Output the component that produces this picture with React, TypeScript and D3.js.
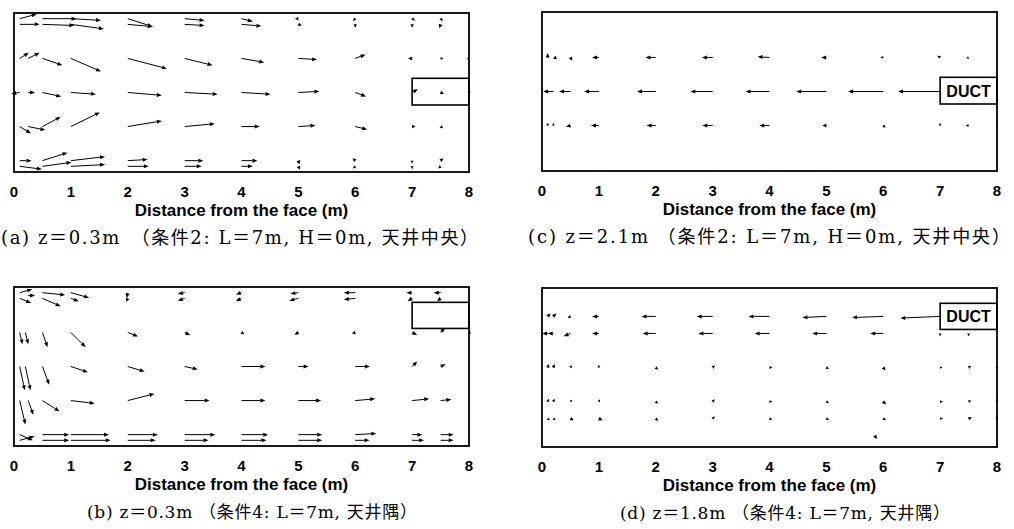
import React from "react";
import * as d3 from "d3";

// arrows: [x (m from face), y (m across), u (m/s), v (m/s)]
const arrowsA: number[][] = [
  [0.1, 0.1, 0.3, -0.08], [0.1, 0.2, 0.35, 0.0],
  [0.5, 0.1, 0.6, 0.0], [0.5, 0.2, 0.56, 0.02],
  [1, 0.1, 0.53, 0.03], [1, 0.2, 0.58, 0.08],
  [2, 0.1, 0.44, 0.14], [2, 0.2, 0.44, 0.04],
  [3, 0.1, 0.35, 0.03], [3, 0.2, 0.35, 0.02],
  [4, 0.1, 0.2, 0.05], [4, 0.2, 0.35, 0.03],
  [5, 0.1, -0.06, 0.0], [5, 0.2, 0.06, 0.02],
  [6, 0.1, -0.04, 0.04], [6, 0.2, 0.0, 0.06],
  [7, 0.1, 0.05, 0.03], [7, 0.2, 0.0, 0.06],
  [7.5, 0.1, 0.04, 0.04], [7.5, 0.2, -0.02, 0.07],
  [0.1, 0.8, 0.16, -0.1], [0.25, 0.8, 0.2, -0.1],
  [0.5, 0.8, 0.35, 0.12], [1, 0.8, 0.53, 0.23],
  [2, 0.8, 0.69, 0.18], [3, 0.8, 0.49, 0.12],
  [4, 0.8, 0.4, 0.07], [5, 0.8, 0.33, 0.02],
  [6, 0.8, 0.18, -0.07], [7, 0.8, -0.07, 0.0],
  [7.5, 0.8, 0.05, 0.0], [8, 0.8, -0.04, 0.0],
  [0.1, 1.4, -0.15, 0.02], [0.25, 1.4, 0.12, 0.0],
  [0.5, 1.4, 0.33, 0.07], [1, 1.4, 0.44, 0.03],
  [2, 1.4, 0.6, 0.05], [3, 1.4, 0.58, 0.03],
  [4, 1.4, 0.51, 0.03], [5, 1.4, 0.37, -0.02],
  [6, 1.4, 0.19, 0.07], [7, 1.4, 0.1, -0.06],
  [7.5, 1.4, 0.06, 0.02], [8, 1.4, 0.03, -0.02],
  [0.1, 2.0, 0.2, 0.12], [0.25, 2.0, 0.3, 0.06],
  [0.5, 2.0, 0.32, -0.17], [1, 2.0, 0.51, -0.25],
  [2, 2.0, 0.6, -0.1], [3, 2.0, 0.53, -0.05],
  [4, 2.0, 0.32, 0.0], [5, 2.0, 0.3, -0.02],
  [6, 2.0, 0.21, 0.05], [7, 2.0, 0.06, 0.0],
  [7.5, 2.0, 0.05, 0.03],
  [0.1, 2.6, 0.21, 0.0], [0.1, 2.7, 0.39, 0.05],
  [0.5, 2.6, 0.44, -0.14], [0.5, 2.7, 0.51, -0.07],
  [1, 2.6, 0.6, -0.07], [1, 2.7, 0.6, -0.03],
  [2, 2.6, 0.35, -0.02], [2, 2.7, 0.37, 0.0],
  [3, 2.6, 0.33, 0.0], [3, 2.7, 0.3, 0.0],
  [4, 2.6, 0.28, 0.0], [4, 2.7, 0.2, 0.0],
  [5, 2.6, 0.02, 0.07], [5, 2.7, 0.03, 0.06],
  [6, 2.6, -0.05, -0.04], [6, 2.7, -0.04, 0.04],
  [7, 2.6, 0.0, 0.05], [7, 2.7, 0.0, 0.05],
  [7.5, 2.6, 0.05, -0.04], [7.5, 2.7, -0.04, 0.04],
];

const arrowsB: number[][] = [
  [0.1, 0.1, 0.22, -0.06], [0.1, 0.2, 0.2, 0.08], [0.25, 0.15, 0.12, 0.0],
  [0.5, 0.1, 0.4, 0.04], [0.5, 0.2, 0.32, 0.14],
  [1, 0.1, 0.32, 0.09], [1, 0.2, 0.14, 0.05],
  [2, 0.1, -0.02, 0.1], [2, 0.2, -0.03, 0.06],
  [3, 0.1, -0.12, 0.02], [3, 0.2, -0.12, 0.04],
  [4, 0.1, -0.1, 0.03], [4, 0.2, -0.1, 0.05],
  [5, 0.1, -0.14, 0.02], [5, 0.2, -0.16, 0.04],
  [6, 0.1, -0.2, 0.0], [6, 0.2, -0.2, 0.02],
  [7, 0.1, -0.1, 0.0], [7, 0.2, -0.08, 0.05],
  [7.5, 0.1, -0.12, 0.0], [7.5, 0.2, -0.06, 0.05],
  [0.1, 0.8, 0.05, 0.21], [0.2, 0.8, 0.05, 0.21],
  [0.5, 0.8, 0.09, 0.26], [1, 0.8, 0.26, 0.26],
  [2, 0.8, 0.18, 0.07], [3, 0.8, 0.1, 0.05],
  [4, 0.8, 0.05, 0.03], [5, 0.8, -0.07, 0.04],
  [6, 0.8, -0.06, 0.02], [7, 0.8, 0.09, 0.05],
  [7.5, 0.8, 0.08, -0.08], [8, 0.8, 0.04, 0.02],
  [0.1, 1.4, 0.09, 0.42], [0.2, 1.4, 0.09, 0.42],
  [0.5, 1.4, 0.12, 0.32], [1, 1.4, 0.3, 0.1],
  [2, 1.4, 0.3, 0.09], [3, 1.4, 0.23, 0.05],
  [4, 1.4, 0.42, 0.0], [5, 1.4, 0.18, 0.0],
  [6, 1.4, 0.26, 0.0], [7, 1.4, 0.09, -0.09],
  [7.5, 1.4, 0.09, -0.04],
  [0.1, 2.0, 0.1, 0.42], [0.25, 2.0, 0.09, 0.25],
  [0.5, 2.0, 0.3, 0.19], [1, 2.0, 0.42, 0.05],
  [2, 2.0, 0.47, -0.12], [3, 2.0, 0.44, 0.0],
  [4, 2.0, 0.42, 0.0], [5, 2.0, 0.4, 0.0],
  [6, 2.0, 0.35, -0.03], [7, 2.0, 0.3, -0.03],
  [7.5, 2.0, 0.19, -0.02],
  [0.1, 2.6, 0.23, 0.1], [0.1, 2.7, 0.26, -0.07],
  [0.5, 2.6, 0.47, 0.0], [0.5, 2.7, 0.47, 0.0],
  [1, 2.6, 0.67, 0.0], [1, 2.7, 0.7, 0.0],
  [2, 2.6, 0.53, 0.0], [2, 2.7, 0.49, 0.0],
  [3, 2.6, 0.54, 0.0], [3, 2.7, 0.42, 0.0],
  [4, 2.6, 0.47, 0.0], [4, 2.7, 0.44, 0.0],
  [5, 2.6, 0.42, 0.0], [5, 2.7, 0.42, 0.0],
  [6, 2.6, 0.37, -0.02], [6, 2.7, 0.25, 0.0],
  [7, 2.6, 0.18, 0.0], [7, 2.7, 0.21, 0.0],
  [7.5, 2.6, 0.23, 0.0], [7.5, 2.7, 0.23, 0.0],
];

const arrowsC: number[][] = [
  [0.1, 0.8, 0.0, -0.08], [0.25, 0.8, -0.06, 0.02], [0.5, 0.8, 0.03, 0.06],
  [1, 0.8, -0.12, 0.0], [2, 0.8, -0.18, 0.0], [3, 0.8, -0.19, 0.0],
  [4, 0.8, -0.21, -0.01], [5, 0.8, -0.09, 0.0], [6, 0.8, -0.05, 0.0],
  [7, 0.8, -0.05, -0.03], [7.5, 0.8, -0.04, 0.02],
  [0.2, 1.4, -0.18, 0.0], [0.5, 1.4, -0.2, 0.0], [1, 1.4, -0.26, 0.0],
  [2, 1.4, -0.33, 0.0], [3, 1.4, -0.39, 0.0], [4, 1.4, -0.42, 0.0],
  [5, 1.4, -0.53, 0.0], [6, 1.4, -0.62, 0.0], [7, 1.4, -0.74, 0.0],
  [0.1, 2.0, 0.0, -0.05], [0.2, 2.0, 0.0, -0.05], [0.5, 2.0, -0.08, 0.02],
  [1, 2.0, -0.14, 0.0], [2, 2.0, -0.16, 0.0], [3, 2.0, -0.18, 0.0],
  [4, 2.0, -0.18, 0.0], [5, 2.0, -0.07, 0.0], [6, 2.0, 0.04, 0.04],
  [7, 2.0, 0.0, -0.05], [7.5, 2.0, -0.05, 0.0], [8, 2.0, 0.0, -0.04],
];

const arrowsD: number[][] = [
  [0.1, 0.5, 0.05, -0.05], [0.2, 0.5, 0.05, -0.05], [0.5, 0.5, -0.05, 0.03],
  [1, 0.5, -0.12, 0.0], [2, 0.5, -0.25, 0.0], [3, 0.5, -0.28, 0.0],
  [4, 0.5, -0.37, 0.0], [5, 0.5, -0.42, 0.02], [6, 0.5, -0.55, 0.02],
  [7, 0.5, -0.7, 0.03],
  [0.1, 0.8, -0.1, 0.0], [0.2, 0.8, -0.1, 0.0], [0.5, 0.8, -0.12, 0.05],
  [1, 0.8, -0.12, 0.0], [2, 0.8, -0.23, 0.0], [3, 0.8, -0.25, 0.0],
  [4, 0.8, -0.26, 0.0], [5, 0.8, -0.25, 0.0], [6, 0.8, -0.23, 0.0],
  [7, 0.8, 0.0, 0.05], [7.5, 0.8, 0.0, 0.05],
  [0.1, 1.4, 0.02, -0.06], [0.2, 1.4, 0.02, -0.06], [0.5, 1.4, 0.03, -0.04],
  [1, 1.4, 0.0, -0.05], [2, 1.4, 0.04, 0.04], [3, 1.4, 0.04, -0.04],
  [4, 1.4, 0.05, 0.0], [5, 1.4, 0.05, 0.02], [6, 1.4, 0.04, 0.05],
  [7, 1.4, 0.04, 0.0], [7.5, 1.4, 0.05, -0.02], [8, 1.4, 0.0, -0.05],
  [0.1, 2.0, 0.02, -0.05], [0.2, 2.0, 0.02, -0.05], [0.5, 2.0, 0.03, -0.03],
  [1, 2.0, 0.02, -0.04], [2, 2.0, 0.04, 0.04], [3, 2.0, 0.04, -0.04],
  [4, 2.0, 0.05, 0.0], [5, 2.0, 0.05, 0.02], [6, 2.0, 0.05, 0.05],
  [7, 2.0, 0.05, 0.0], [7.5, 2.0, 0.05, -0.02], [8, 2.0, 0.0, -0.05],
  [0.1, 2.3, 0.04, 0.03], [0.2, 2.3, 0.04, 0.03], [0.5, 2.3, 0.06, 0.03],
  [1, 2.3, 0.07, 0.03], [2, 2.3, 0.04, 0.04], [3, 2.3, 0.04, -0.04],
  [4, 2.3, 0.05, 0.02], [5, 2.3, 0.05, 0.02], [6, 2.3, 0.05, 0.02],
  [7, 2.3, 0.05, 0.0], [7.5, 2.3, 0.06, -0.02], [8, 2.3, 0.0, -0.05],
  [5.85, 2.6, 0.04, 0.06],
];

const xTicks = [0, 1, 2, 3, 4, 5, 6, 7, 8];
const xTitle = "Distance from the face (m)";
// duct opening [x0, x1, y0, y1] in m
const ductCenter = [7, 8, 1.15, 1.62];
const ductCorner = [7, 8, 0.27, 0.73];

const captions = [
  "(a) z＝0.3m　（条件2: L＝7m, H＝0m, 天井中央）",
  "(b) z＝0.3m （条件4: L＝7m, 天井隅）",
  "(c) z＝2.1m （条件2: L＝7m, H＝0m, 天井中央）",
  "(d) z＝1.8m （条件4: L＝7m, 天井隅）",
];

const VS = 1; // m of plot per m/s
const W = 1014;
const H = 529;
const SANS = "'Liberation Sans', Arial, sans-serif";

const panels = [
  { arrows: arrowsA, duct: ductCenter, label: false, cap: captions[0], left: 14, top: 13, capX: 1, capLen: 477, capSize: 18 },
  { arrows: arrowsB, duct: ductCorner, label: false, cap: captions[1], left: 14, top: 287, capX: 87, capLen: 330, capSize: 17 },
  { arrows: arrowsC, duct: ductCenter, label: true, cap: captions[2], left: 542, top: 12, capX: 528, capLen: 482, capSize: 18 },
  { arrows: arrowsD, duct: ductCorner, label: true, cap: captions[3], left: 542, top: 288, capX: 620, capLen: 330, capSize: 17 },
];

const Arrow = ({ x1, y1, x2, y2 }) => {
  const dx = x2 - x1;
  const dy = y2 - y1;
  const len = Math.hypot(dx, dy);
  if (len < 0.5) return null;
  const ux = dx / len;
  const uy = dy / len;
  const h = Math.min(5, len);
  const w = Math.min(2, len * 0.5);
  const bx = x2 - ux * h;
  const by = y2 - uy * h;
  const pts = `${x2},${y2} ${bx - uy * w},${by + ux * w} ${bx + uy * w},${by - ux * w}`;
  return (
    <g>
      {len > h && <line x1={x1} y1={y1} x2={bx} y2={by} stroke="#000" strokeWidth={1} />}
      <polygon points={pts} fill="#000" />
    </g>
  );
};

const Panel = ({ p }) => {
  const pw = 455;
  const ph = 159;
  const x = d3.scaleLinear().domain([0, 8]).range([p.left, p.left + pw]);
  const y = d3.scaleLinear().domain([0, 2.8]).range([p.top, p.top + ph]);
  const [dx0, dx1, dy0, dy1] = p.duct;
  return (
    <g>
      {p.arrows.map((a, i) => (
        <Arrow key={i} x1={x(a[0])} y1={y(a[1])} x2={x(a[0] + a[2] * VS)} y2={y(a[1] + a[3] * VS)} />
      ))}
      <rect
        x={x(dx0)}
        y={y(dy0)}
        width={x(dx1) - x(dx0)}
        height={y(dy1) - y(dy0)}
        fill={p.label ? "#fff" : "none"}
        stroke="#000"
        strokeWidth={1.6}
      />
      {p.label && (
        <text
          x={(x(dx0) + x(dx1)) / 2}
          y={(y(dy0) + y(dy1)) / 2 + 6}
          textAnchor="middle"
          fontFamily={SANS}
          fontWeight="bold"
          fontSize={16}
        >
          DUCT
        </text>
      )}
      <rect x={p.left} y={p.top} width={pw} height={ph} fill="none" stroke="#000" strokeWidth={1.8} />
      {xTicks.map((t) => (
        <text key={t} x={x(t)} y={p.top + ph + 25} textAnchor="middle" fontFamily={SANS} fontWeight="bold" fontSize={15}>
          {t}
        </text>
      ))}
      <text x={p.left + pw / 2} y={p.top + ph + 44} textAnchor="middle" fontFamily={SANS} fontWeight="bold" fontSize={17}>
        {xTitle}
      </text>
      <text
        x={p.capX}
        y={p.top + ph + 72}
        textLength={p.capLen}
        lengthAdjust="spacing"
        fontFamily="'DejaVu Serif', 'Noto Sans CJK JP', serif"
        fontSize={p.capSize}
      >
        {p.cap}
      </text>
    </g>
  );
};

export default function App() {
  return (
    <svg width={W} height={H} style={{ position: "absolute", left: 0, top: 0, background: "#fff" }}>
      <rect width={W} height={H} fill="#fff" />
      {panels.map((p, i) => (
        <Panel key={i} p={p} />
      ))}
    </svg>
  );
}
